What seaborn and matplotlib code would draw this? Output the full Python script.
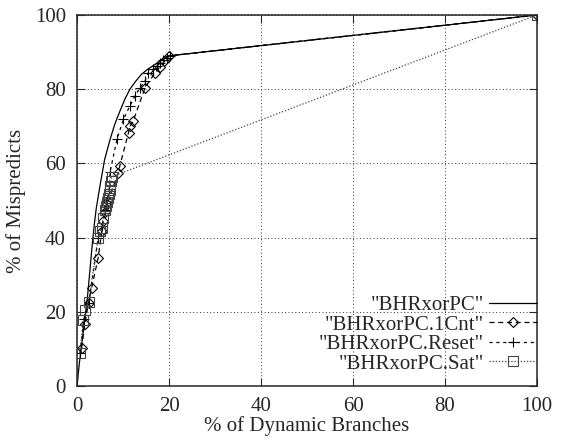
import seaborn as sns
import pandas as pd
import matplotlib.pyplot as plt

# values (% of dynamic branches, % of mispredicts)
base_x = [0, 0.5, 1.0, 1.6, 2.2, 2.8, 3.3, 3.8, 4.2, 5.0, 6.0, 7.2, 8.2, 9.3, 10.4, 11.5, 12.8, 14.0, 15.5, 17.0, 18.5, 20.0, 100]
base_y = [0, 6, 11, 17, 23, 31, 38, 44, 48, 54, 61, 66.5, 70.5, 74, 77.3, 80, 82.2, 84, 85.5, 86.7, 87.9, 89, 100]

cnt_x = [1.0, 1.7, 2.5, 3.2, 4.6, 5.4, 5.7, 6.1, 6.5, 6.8, 9.0, 9.3, 11.2, 11.5, 12.2, 14.8, 17.0, 18.0, 19.0, 20.0, 100]
cnt_y = [10.3, 16.6, 22.5, 26.5, 34.6, 41.8, 44.5, 47.0, 49.0, 50.0, 57.5, 59.3, 68.3, 70.0, 71.4, 80.4, 84.5, 86.0, 87.5, 89.0, 100]

reset_x = [0.7, 1.5, 2.6, 4.6, 5.5, 6.1, 6.6, 7.0, 7.2, 8.7, 10.1, 11.5, 12.6, 13.7, 14.8, 15.5, 16.6, 17.3, 18.0, 18.8, 19.5, 20.2, 100]
reset_y = [9.0, 18.0, 22.5, 40.0, 43.0, 47.5, 50.0, 53.0, 57.8, 66.6, 71.9, 75.5, 78.2, 80.4, 82.2, 84.5, 85.4, 86.3, 87.1, 88.0, 88.5, 89.0, 100]

sat_x = [0.6, 1.4, 1.8, 2.5, 4.6, 5.0, 5.4, 5.7, 6.1, 6.4, 6.6, 6.8, 7.0, 7.1, 7.2, 7.4, 7.5, 100]
sat_y = [8.8, 17.8, 20.5, 22.7, 39.8, 41.8, 42.5, 45.2, 47.4, 48.5, 49.6, 50.7, 51.8, 52.9, 54.0, 55.2, 56.4, 100]

labels = ['"BHRxorPC"', '"BHRxorPC.1Cnt"', '"BHRxorPC.Reset"', '"BHRxorPC.Sat"']
ticks = [0, 20, 40, 60, 80, 100]

sns.set_style("ticks")
plt.rcParams['font.family'] = ['Liberation Serif', 'DejaVu Serif']
plt.rcParams['font.size'] = 15

fig = plt.figure(figsize=(5.65, 4.42), dpi=100)
ax = fig.add_axes([77 / 565, 1 - 386 / 442, 460 / 565, 371 / 442])

series = [
    (base_x, base_y, dict(linestyle='-', marker=None, color='black')),
    (cnt_x, cnt_y, dict(linestyle=(0, (4, 3)), marker='D', markersize=5.5, color='black')),
    (reset_x, reset_y, dict(linestyle=(0, (2.5, 3)), marker='+', markersize=7, color='black')),
    (sat_x, sat_y, dict(linestyle=(0, (1, 1.5)), marker='s', markersize=6.5, color='#444444')),
]

for (xs, ys, style), label in zip(series, labels):
    df = pd.DataFrame({"x": xs, "y": ys})
    sns.lineplot(data=df, x="x", y="y", ax=ax, label=label, sort=False, estimator=None,
                 linewidth=0.9, markerfacecolor='none', markeredgewidth=0.8,
                 markeredgecolor=style['color'], **style)

ax.set_xlim(0, 100)
ax.set_ylim(0, 100)
ax.set_xticks(ticks)
ax.set_yticks(ticks)
ax.grid(True, linestyle=(0, (1, 2.5)), color='#333333', linewidth=0.7)
ax.tick_params(direction='in', top=True, right=True, length=6, width=0.8, pad=8, labelsize=15)
for s in ax.spines.values():
    s.set_linewidth(1.1)
    s.set_visible(True)

ax.set_xlabel("% of Dynamic Branches", fontsize=15, labelpad=0)
ax.set_ylabel("% of Mispredicts", fontsize=15, labelpad=6)

ax.legend(loc='lower right', bbox_to_anchor=(1.0, 0.033), frameon=False, markerfirst=False,
          alignment='right', handlelength=2.3, handletextpad=0.25, labelspacing=0.0,
          borderaxespad=0, borderpad=0, fontsize=15)

fig.savefig("out.png", dpi=100)
